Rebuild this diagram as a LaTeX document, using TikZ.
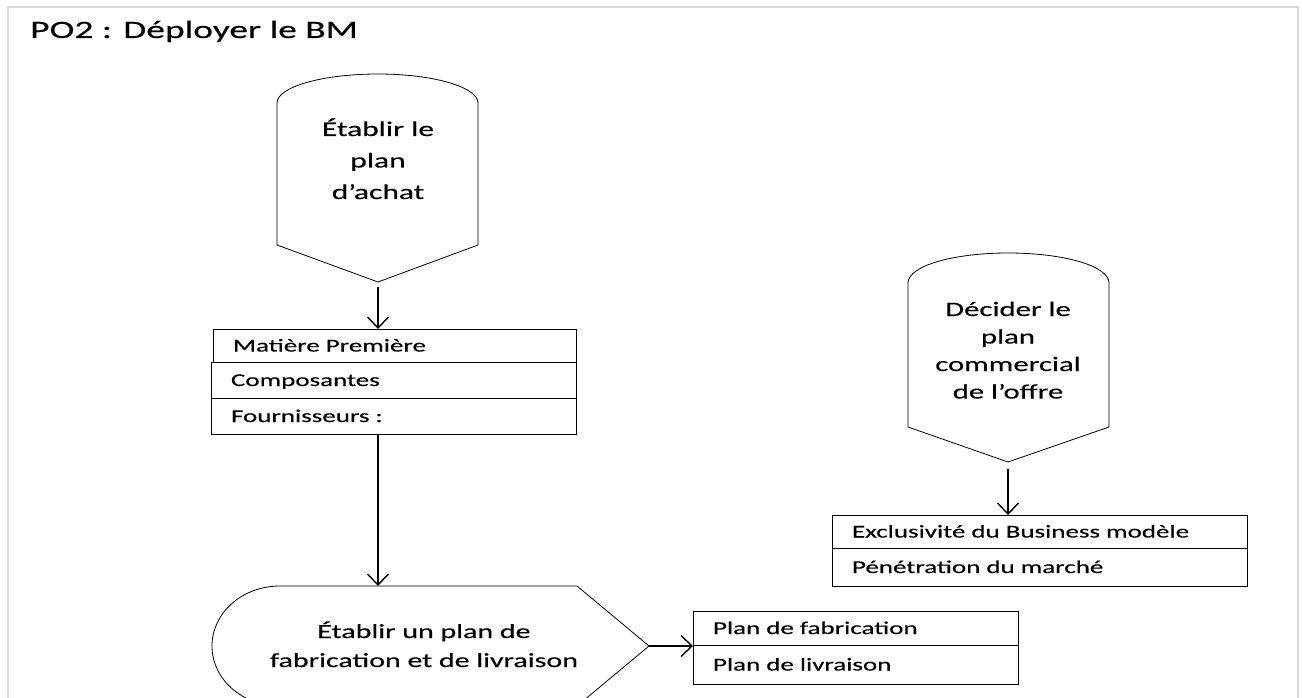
\documentclass[tikz,border=0pt]{standalone}
\usepackage{fontspec}
\setmainfont{Carlito}[FakeStretch=1.5, FakeBold=0.3]
\usetikzlibrary{arrows.meta, calc}
\tikzset{
  rowbox/.style 2 args={
    rectangle, draw=black, line width=0.9pt,
    anchor=north west, outer sep=0pt,
    inner xsep=20pt, inner ysep=0pt,
    text width=#1, minimum height=#2,
    text height=15pt, text depth=3pt, align=left,
    font=\fontsize{18}{22}\selectfont
  },
  shapetext/.style={anchor=base, align=center, inner sep=0pt},
  displayline/.style={draw=black, line width=0.8pt},
  flowarrow/.style={-{Straight Barb[length=11pt,width=21pt,line width=1.4pt]}, line width=2.2pt},
  framebox/.style={draw=gray!30, line width=1.5pt},
}
\begin{document}
\begin{tikzpicture}[x=1pt, y=-1pt]
      \useasboundingbox (0,0) rectangle (1302,698);
      \fill[white] (0,0) rectangle (1302,698);
      \clip (0,0) rectangle (1302,698);
      \draw[framebox] (8,7) rectangle (1298,720);
      \node[anchor=base west, inner sep=0pt, font=\fontsize{25}{29}\selectfont](titre)at(30,38) {PO2 : Déployer le BM};

      \node[shapetext, text width=150pt, font=\fontsize{21}{31.5}\selectfont](achat)at(378,136) {Établir le\\plan\\d’achat};
      \node[shapetext, text width=170pt, font=\fontsize{20.5}{27.5}\selectfont](offre)at(1008,316) {Décider le\\plan\\commercial\\de l’offre};
      \node[shapetext, text width=330pt, font=\fontsize{20}{29}\selectfont](fab)at(424,638) {Établir un plan de\\fabrication et de livraison};

      \draw[displayline] (277,103) -- (277,245) -- (378,282) -- (478,245) -- (478,103)
        .. controls (478,87) and (433,74) .. (378,74) .. controls (322,74) and (277,87) .. (277,103) -- cycle;
      \draw[displayline] (908,283) -- (908,427) -- (1008,462) -- (1109,427) -- (1109,283)
        .. controls (1109,266) and (1064,253) .. (1008,253) .. controls (953,253) and (908,266) .. (908,283) -- cycle;
      \draw[displayline] (649,646) -- (577,586) -- (280,586)
        .. controls (242,586) and (212,613) .. (212,646) .. controls (212,679) and (242,706) .. (280,706)
        -- (577,706) -- cycle;

      \coordinate (achat-tip) at (378,287);
      \coordinate (offre-tip) at (1008,469);
      \coordinate (fab-top) at (378,586);
      \coordinate (fab-tip) at (649,646);

      \node[rowbox={323pt}{33pt}](matiere)at(213,329) {Matière Première};
      \node[rowbox={325pt}{36pt}](compo)at(211,362) {Composantes};
      \node[rowbox={325pt}{36pt}](fourn)at(211,398) {Fournisseurs :};
      \node[rowbox={375pt}{33pt}](exclu)at(832,515) {Exclusivité du Business modèle};
      \node[rowbox={375pt}{38pt}](penet)at(832,548) {Pénétration du marché};
      \node[rowbox={285pt}{34pt}](plfab)at(693,611) {Plan de fabrication};
      \node[rowbox={285pt}{39pt}](pllivr)at(693,645) {Plan de livraison};

      \draw[flowarrow](achat-tip)--(achat-tip |- matiere.north);
      \draw[flowarrow](fourn.south -| fab-top)--(fab-top);
      \draw[flowarrow](offre-tip)--(offre-tip |- exclu.north);
      \draw[flowarrow](fab-tip)--(fab-tip -| plfab.west);
    \end{tikzpicture}
\end{document}
